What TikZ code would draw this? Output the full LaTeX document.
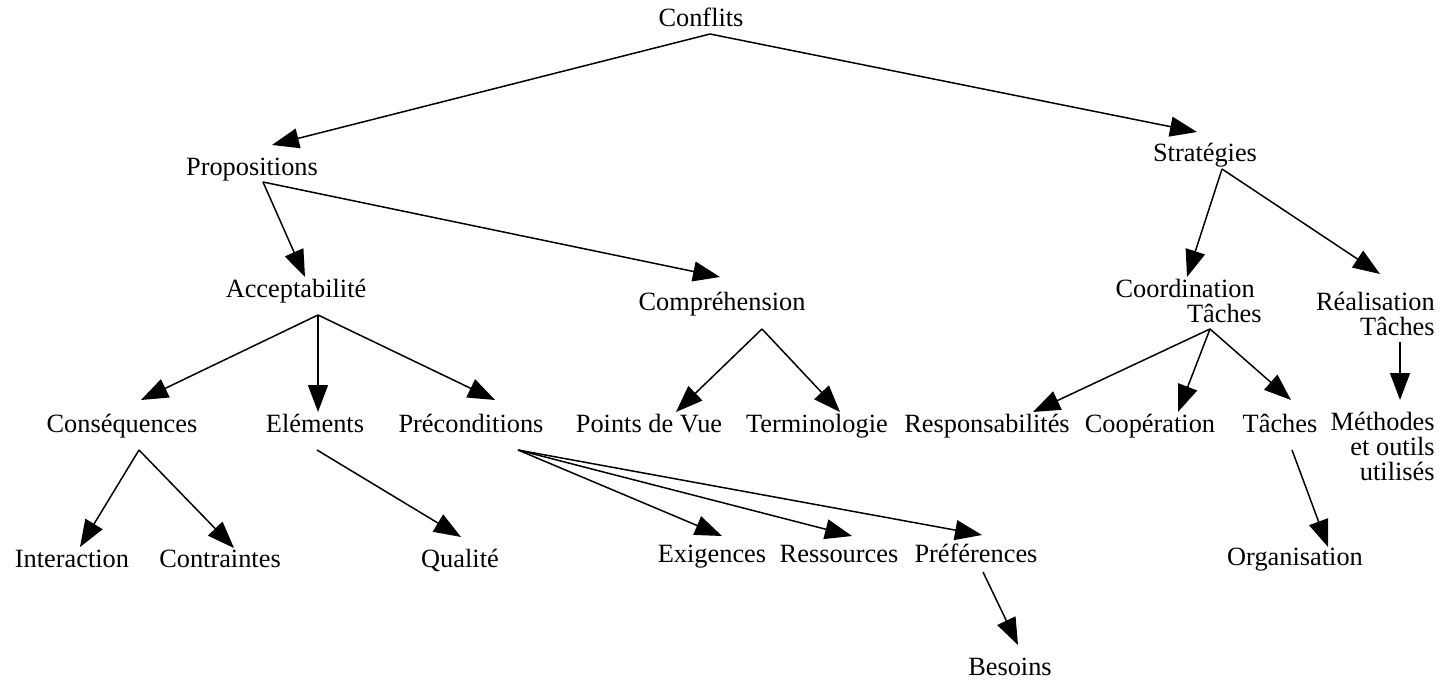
\documentclass[tikz,border=0pt]{standalone}
\usepackage{fontspec}
\setmainfont{Liberation Serif}
\usetikzlibrary{arrows.meta}
\tikzset{
    word/.style = {inner sep=0pt, anchor=base, font=\fontsize{15}{14.2}\selectfont},
    wordr/.style = {word, anchor=base east, align=right},
    edgen/.style = {-{Triangle[length=0.54cm,width=0.4cm]}, line width=0.85pt},
}

\begin{document}
\begin{tikzpicture}[x=0.02cm, y=-0.02cm]
  \useasboundingbox (0,0) rectangle (1443,682);

  % tree labels, level by level
  % (the right-aligned ones sit on the baseline of their last line)
  \node[word] (conflits) at (701,27) {Conflits};

  \node[word] (prop)  at (252,176) {Propositions};
  \node[word] (strat) at (1205,162) {Stratégies};

  \node[word]  (accept) at (296,297) {Acceptabilité};
  \node[word]  (compr)  at (722,310) {Compréhension};
  \node[wordr] (coord)  at (1262,322) {Coordination\hspace*{0.14cm}\\Tâches};
  \node[wordr] (real)   at (1435,335) {Réalisation\\Tâches};

  \node[word]  (consq)   at (122,432) {Conséquences};
  \node[word]  (elem)    at (315,432) {Eléments};
  \node[word]  (precond) at (471,432) {Préconditions};
  \node[word]  (pdv)     at (649,432) {Points de Vue};
  \node[word]  (termi)   at (817,432) {Terminologie};
  \node[word]  (resp)    at (987,432) {Responsabilités};
  \node[word]  (coop)    at (1150,432) {Coopération};
  \node[word]  (taches)  at (1280,432) {Tâches};
  \node[wordr] (meth)    at (1435,480) {Méthodes\\et outils\\utilisés};

  \node[word] (inter) at (72,567) {Interaction};
  \node[word] (contr) at (220,567) {Contraintes};
  \node[word] (qual)  at (460,567) {Qualité};
  \node[word] (exig)  at (712,562) {Exigences};
  \node[word] (ress)  at (839,562) {Ressources};
  \node[word] (pref)  at (976,562) {Préférences};
  \node[word] (orga)  at (1295,565) {Organisation};

  \node[word] (besoins) at (1010,675) {Besoins};

  % arrows: from under the parent to over the child
  \draw[edgen] ([shift={(9,7)}]conflits.base) -- ([shift={(20,-31)}]prop.base);
  \draw[edgen] ([shift={(9,7)}]conflits.base) -- ([shift={(-8,-30)}]strat.base);

  \draw[edgen] ([shift={(11,6)}]prop.base) -- ([shift={(9,-20)}]accept.base);
  \draw[edgen] ([shift={(11,6)}]prop.base) -- ([shift={(-2,-33)}]compr.base);

  \draw[edgen] ([shift={(17,7)}]strat.base) -- ([shift={(-75,-45)}]coord.base east);
  \draw[edgen] ([shift={(17,7)}]strat.base) -- ([shift={(-55,-61)}]real.base east);

  \draw[edgen] ([shift={(22,18)}]accept.base) -- ([shift={(19,-32)}]consq.base);
  \draw[edgen] ([shift={(22,18)}]accept.base) -- ([shift={(3,-20)}]elem.base);
  \draw[edgen] ([shift={(22,18)}]accept.base) -- ([shift={(24,-32)}]precond.base);

  \draw[edgen] ([shift={(40,19)}]compr.base) -- ([shift={(27,-20)}]pdv.base);
  \draw[edgen] ([shift={(40,19)}]compr.base) -- ([shift={(23,-20)}]termi.base);

  \draw[edgen] ([shift={(-52,7)}]coord.base east) -- ([shift={(46,-20)}]resp.base);
  \draw[edgen] ([shift={(-52,7)}]coord.base east) -- ([shift={(28,-20)}]coop.base);
  \draw[edgen] ([shift={(-52,7)}]coord.base east) -- ([shift={(11,-32)}]taches.base);

  \draw[edgen] ([shift={(-35,7)}]real.base east) -- ([shift={(-35,-80)}]meth.base east);

  \draw[edgen] ([shift={(17,18)}]consq.base) -- ([shift={(8,-20)}]inter.base);
  \draw[edgen] ([shift={(17,18)}]consq.base) -- ([shift={(14,-19)}]contr.base);

  \draw[edgen] ([shift={(2,18)}]elem.base) -- ([shift={(1,-30)}]qual.base);

  \draw[edgen] ([shift={(47,18)}]precond.base) -- ([shift={(10,-26)}]exig.base);
  \draw[edgen] ([shift={(47,18)}]precond.base) -- ([shift={(13,-26)}]ress.base);
  \draw[edgen] ([shift={(47,18)}]precond.base) -- ([shift={(6,-27)}]pref.base);

  \draw[edgen] ([shift={(12,18)}]taches.base) -- ([shift={(33,-18)}]orga.base);

  \draw[edgen] ([shift={(7,10)}]pref.base) -- ([shift={(8,-30)}]besoins.base);
\end{tikzpicture}
\end{document}
